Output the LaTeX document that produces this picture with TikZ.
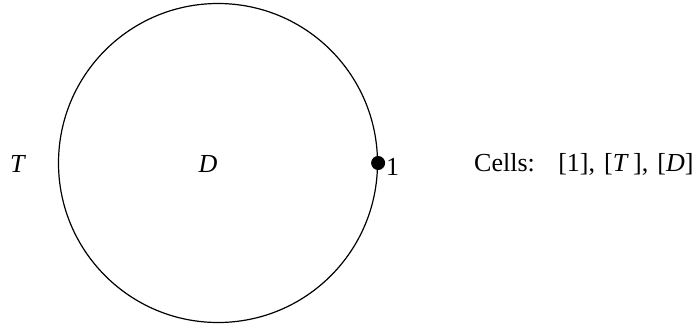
\documentclass[tikz,border=0pt]{standalone}
\usepackage{fontspec}
\setmainfont{Liberation Serif}
\begin{document}
\begin{tikzpicture}[x=1pt,y=-1pt,
  lbl/.style={inner sep=0pt,font=\fontsize{26}{30}\selectfont},
  pt/.style={circle,fill=black,inner sep=0pt,minimum size=14pt}]
\useasboundingbox (0,0) rectangle (699,327);
\node[circle,draw,line width=1.2pt,minimum size=319pt,inner sep=0pt] (c) at (218,163) {};
\node[pt] (p) at (c.east) {};
\node[lbl] (T) at (18,164) {\textit{T}};
\node[lbl] (D) at (208,164) {\textit{D}};
\node[lbl,anchor=west] (one) at (386,167) {1};
\node[lbl,anchor=west] (cells) at (474,164) {Cells:\hspace{0.9em}[1],\hspace{0.35em}[\textit{T}\,],\hspace{0.35em}[\textit{D}]};
\end{tikzpicture}
\end{document}
